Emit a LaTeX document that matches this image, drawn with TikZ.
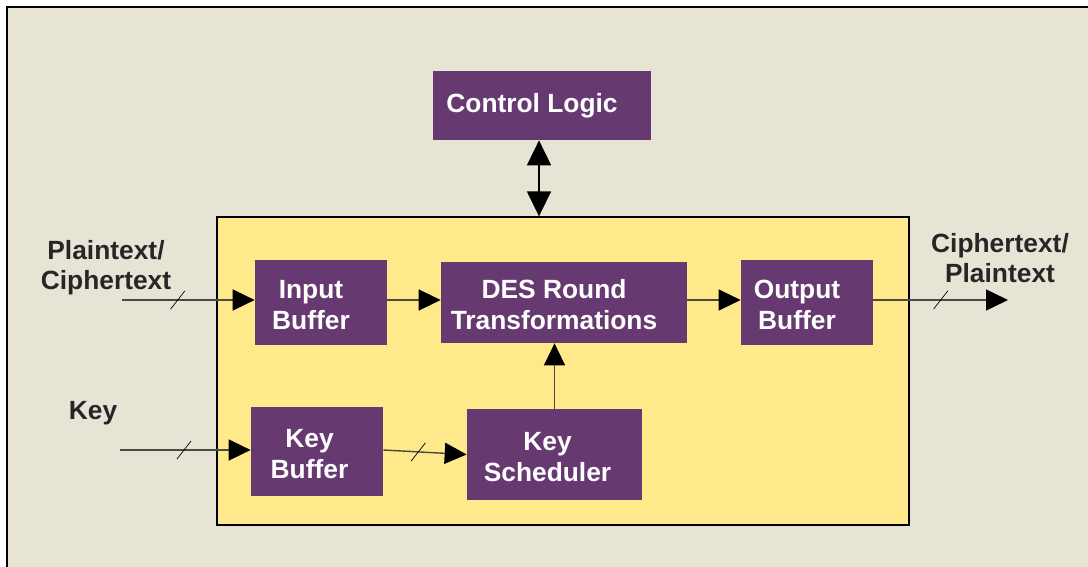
\documentclass[tikz,border=0pt]{standalone}
\usepackage{fontspec}
\setmainfont{Liberation Sans}
\usetikzlibrary{arrows.meta}

\definecolor{paper}{HTML}{E7E4D6}
\definecolor{core}{HTML}{FFE98A}
\definecolor{plum}{HTML}{663A70}
\definecolor{wire}{HTML}{4A4A44}

\begin{document}
\begin{tikzpicture}[x=0.02cm,y=-0.02cm,
    block/.style={fill=plum,inner sep=0pt},
    btext/.style={text=white,font=\fontsize{15}{17.6}\selectfont\bfseries,align=center,inner sep=0pt,xshift=-0.2cm,yshift=-0.05cm},
    lbl/.style={text=black!85,font=\fontsize{15}{17}\selectfont\bfseries,align=center,inner sep=0pt},
    conn/.style={draw=wire,line width=0.8pt,-{Triangle[length=0.44cm,width=0.42cm,black]}},
    slash/.style={draw=black,line width=0.4pt,inner sep=0pt,minimum width=0pt,minimum height=0.46cm,rotate=-38}]
  \useasboundingbox (0,0) rectangle (1088,567);
  % frame
  \draw[fill=paper,line width=0.9pt] (7,7) rectangle (1100,580);
  \node[fill=core,draw=black,line width=0.8pt,minimum width=13.84cm,minimum height=6.16cm] (core) at (563,371) {};

  % blocks
  \node[block,minimum width=4.36cm,minimum height=1.38cm,label={[btext,yshift=0.04cm]center:Control Logic}] (ctrl) at (542,105.5) {};
  \node[block,minimum width=2.64cm,minimum height=1.7cm,label={[btext]center:Input\\Buffer}] (inbuf) at (321,302.5) {};
  \node[block,minimum width=4.92cm,minimum height=1.62cm,label={[btext]center:DES Round\\Transformations}] (des) at (564,302.5) {};
  \node[block,minimum width=2.64cm,minimum height=1.7cm,label={[btext]center:Output\\Buffer}] (outbuf) at (807,302.5) {};
  \node[block,minimum width=2.64cm,minimum height=1.78cm,label={[btext,xshift=0.05cm]center:Key\\Buffer}] (keybuf) at (317,451.5) {};
  \node[block,minimum width=3.5cm,minimum height=1.82cm,label={[btext,xshift=0.06cm]center:Key\\Scheduler}] (keysch) at (554.5,454.5) {};

  % labels
  \node[lbl] (ptxt) at (106,268) {Plaintext/\\Ciphertext};
  \node[lbl] (keytxt) at (93,413) {Key};
  \node[lbl] (ctxt) at (1000,258) {Ciphertext/\\Plaintext};

  % free ends
  \coordinate (pin) at (122,300);
  \coordinate (kin) at (120,450);
  \coordinate (out) at (1008,300);

  % connectors
  \draw[conn] (pin) -- node[slash,pos=0.42]{} (inbuf.west |- pin);
  \draw[conn] (kin) -- node[slash,pos=0.49]{} (keybuf.west |- kin);
  \draw[conn] (inbuf.east |- pin) -- (des.west |- pin);
  \draw[conn] (des.east |- pin) -- (outbuf.west |- pin);
  \draw[conn] (outbuf.east |- pin) -- node[slash,pos=0.5]{} (out);
  \draw[conn] (keybuf.east |- kin) -- node[slash,pos=0.42]{} (keysch.west);
  \draw[conn] (keysch.north) -- (keysch.north |- des.south);
  \draw[draw=black,line width=0.9pt,{Triangle[length=0.5cm,width=0.48cm]}-{Triangle[length=0.5cm,width=0.48cm]}] ([xshift=-0.06cm]ctrl.south) -- ([xshift=-0.06cm]ctrl.south |- core.north);
\end{tikzpicture}
\end{document}
